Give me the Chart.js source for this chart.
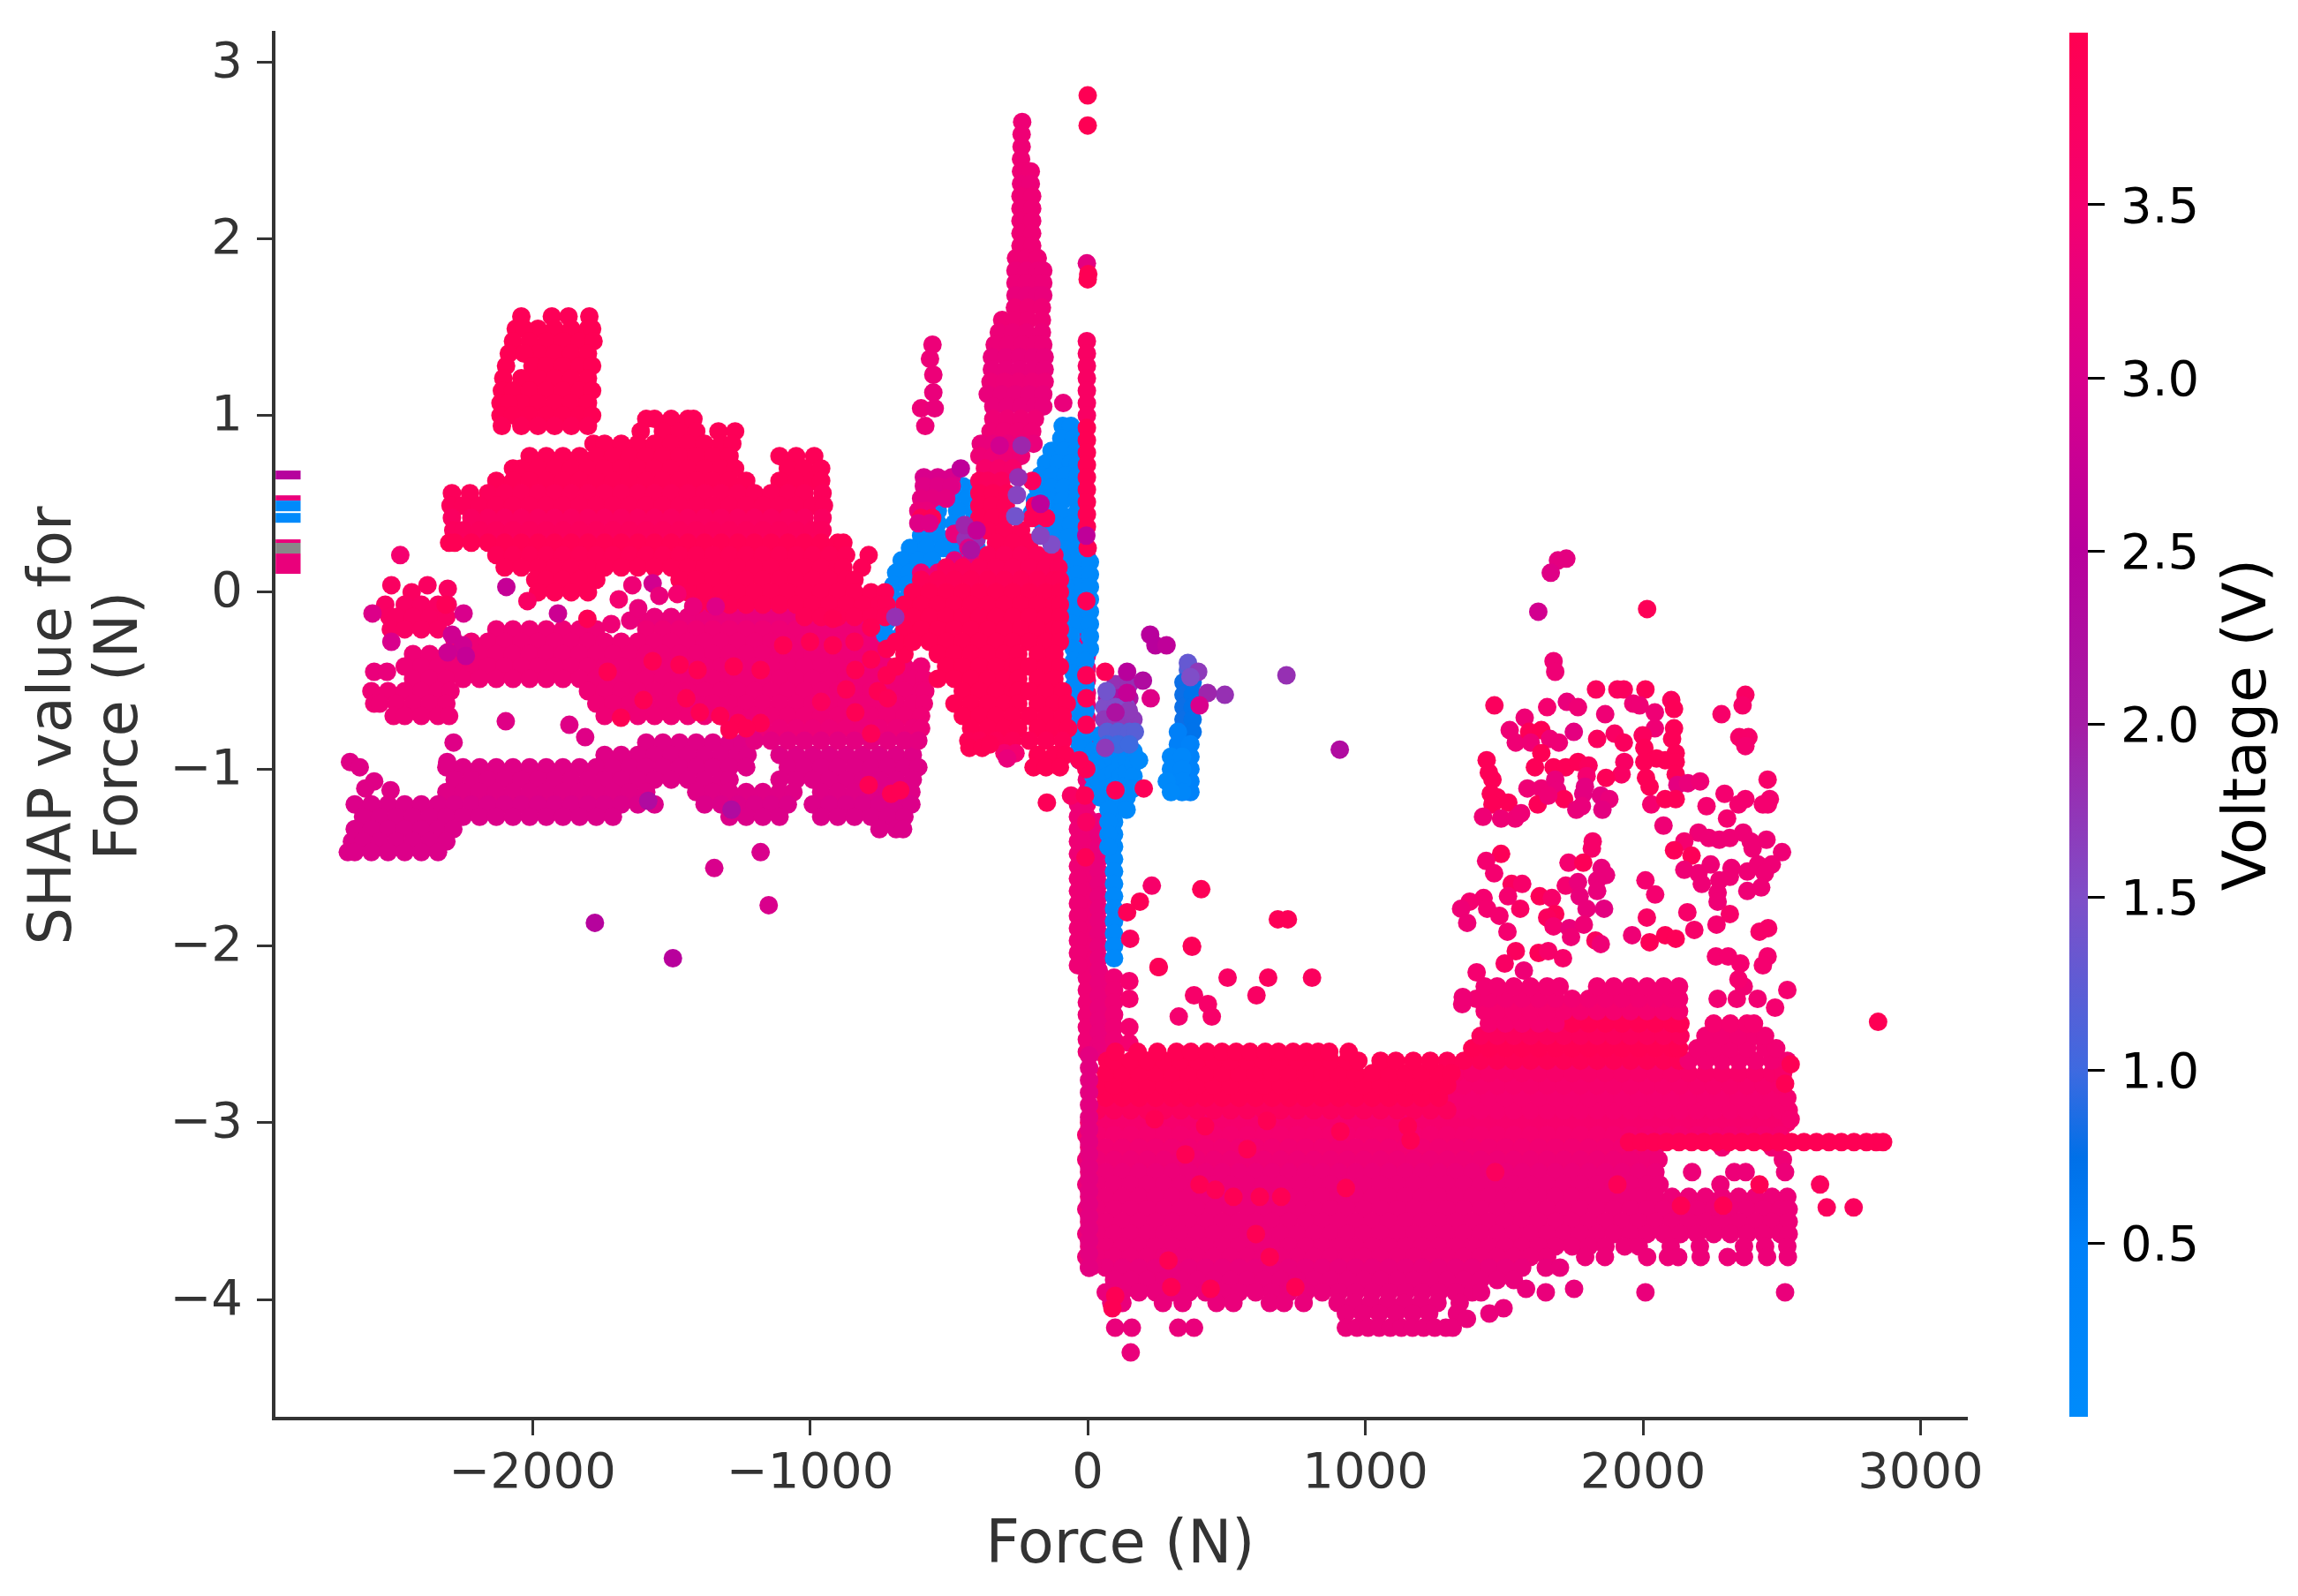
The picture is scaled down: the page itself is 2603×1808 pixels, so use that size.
<!DOCTYPE html>
<html>
<head>
<meta charset="utf-8">
<title>SHAP dependence plot</title>
<script src="https://cdn.jsdelivr.net/npm/chart.js@4"></script>
<style>
  html, body { margin: 0; padding: 0; background: #fff; }
  #main { position: absolute; left: 0; top: 0; }
  #bar { position: absolute; left: 2300px; top: 0; }
</style>
</head>
<body>
<canvas id="main" width="2603" height="1808"></canvas>
<canvas id="bar" width="303" height="1808"></canvas>
<script>
// tick labels
const xTicks = [-2000, -1000, 0, 1000, 2000, 3000];
const yTicks = [-4, -3, -2, -1, 0, 1, 2, 3];
const barTicks = [0.5, 1, 1.5, 2, 2.5, 3, 3.5];

// rows: [shap, voltage, force, force, ...]
const band3Rows = [
  [-0.85,3.1,-2284,-1590,-1530,-1470,-1410,-1350,-1290,-1245],
  [-0.92,3.1,-1740,-1680,-1620,-1560,-1500,-1440,-1380,-1320,-1260,-1225,-1110,-1050,-990,-930,-870,-810,-750,-690,-630],
  [-0.99,3.1,-2310,-2250,-2190,-2130,-2070,-2010,-1950,-1890,-1830,-1770,-1710,-1650,-1590,-1530,-1470,-1410,-1350,-1290,-1230,-1080,-1020,-960,-900,-840,-780,-720,-660,-610],
  [-1.06,3.1,-2280,-2220,-2160,-2100,-2040,-1980,-1920,-1860,-1800,-1740,-1680,-1620,-1560,-1500,-1440,-1380,-1320,-1290,-1110,-1050,-990,-930,-870,-810,-750,-690,-630],
  [-1.13,3.1,-2310,-2250,-2190,-2130,-2070,-2010,-1950,-1890,-1830,-1770,-1710,-1650,-1590,-1410,-1350,-1290,-1230,-1170,-1110,-1060,-960,-900,-840,-780,-720,-660,-635],
  [-1.20,3.05,-2640,-2580,-2520,-2460,-2400,-2340,-2280,-2220,-2160,-2100,-2040,-1980,-1920,-1860,-1800,-1740,-1680,-1620,-1560,-1380,-1320,-1260,-1200,-1140,-1080,-990,-930,-870,-810,-750,-690,-635],
  [-1.27,3.05,-2610,-2550,-2490,-2430,-2370,-2310,-2250,-2190,-2130,-2070,-2010,-1950,-1890,-1830,-1770,-1710,-1290,-1230,-1170,-1110,-960,-900,-840,-780,-720,-660],
  [-1.34,3.05,-2640,-2580,-2520,-2460,-2400,-2340,-2285,-750,-690,-665],
  [-1.41,3.05,-2650,-2610,-2550,-2490,-2430,-2370,-2310],
  [-1.47,3.05,-2665,-2640,-2580,-2520,-2460,-2400,-2340]
];

const band2Rows = [
  [-0.14,3.3,-1620,-1560,-1500,-1440,-1380,-1320,-1260,-1200,-1140,-1080,-1020,-960,-900,-840,-780],
  [-0.21,3.4,-2130,-2070,-2010,-1950,-1890,-1830,-1770,-1590,-1530,-1470,-1410,-1350,-1290,-1230,-1170,-1110,-1050,-990,-930,-870,-810,-750],
  [-0.28,3.4,-2280,-2220,-2160,-2100,-2040,-1980,-1920,-1860,-1800,-1740,-1680,-1620,-1560,-1500,-1440,-1380,-1320,-1260,-1200,-1140,-1080,-1020,-960,-900,-840,-780],
  [-0.35,3.4,-2430,-2370,-2310,-2250,-2190,-2130,-2070,-2010,-1950,-1890,-1830,-1770,-1710,-1650,-1590,-1530,-1470,-1410,-1350,-1290,-1230,-1170,-1110,-1050,-990,-930,-870,-810,-750],
  [-0.42,3.4,-2460,-2400,-2340,-2280,-2220,-2160,-2100,-2040,-1980,-1920,-1860,-1800,-1740,-1680,-1620,-1560,-1500,-1440,-1380,-1320,-1260,-1200,-1140,-1080,-1020,-960,-900,-840,-780,-720,-660,-600],
  [-0.45,3.3,-2570,-2524],
  [-0.49,3.4,-2430,-2370,-2310,-2250,-2190,-2130,-2070,-2010,-1950,-1890,-1830,-1770,-1710,-1650,-1590,-1530,-1470,-1410,-1350,-1290,-1230,-1170,-1110,-1050,-990,-930,-870,-810,-750,-690,-630,-590],
  [-0.56,3.4,-2580,-2520,-2460,-2400,-2340,-2295,-1800,-1740,-1680,-1620,-1560,-1500,-1440,-1380,-1320,-1260,-1200,-1140,-1080,-1020,-960,-900,-840,-780,-720,-660,-600,-585],
  [-0.63,3.4,-2570,-2550,-2490,-2430,-2370,-2310,-1770,-1710,-1650,-1590,-1530,-1470,-1410,-1350,-1290,-1230,-1170,-1110,-1050,-990,-930,-870,-810,-750,-690,-630,-590],
  [-0.70,3.4,-2500,-2460,-2400,-2340,-2300,-1740,-1680,-1620,-1560,-1500,-1440,-1380,-1320,-1260,-1200,-1140,-1080,-1020,-960,-900,-840,-780,-720,-660,-600],
  [-0.77,3.35,-1290,-1230,-1170,-1110,-1050,-990,-930,-870,-810,-750,-690,-630,-600],
  [-0.84,3.2,-1200,-1140,-1080,-1020,-960,-900,-840,-780,-720,-660,-610]
];

const bluePatchRows = [
  [0.60,0.1,-450,-400],[0.53,0.1,-490,-430,-380],[0.46,0.1,-540,-470,-410],[0.39,0.1,-600,-540,-480,-420],
  [0.32,0.1,-600,-540,-480],[0.25,0.1,-640,-580,-520,-460,-400],[0.18,0.1,-670,-610,-560],[0.11,0.1,-690,-640],
  [0.04,0.1,-700,-650],[-0.03,0.1,-705,-650],[-0.10,0.1,-720,-660],[-0.17,0.1,-725,-660],[-0.24,0.1,-730,-670],
  [0.94,0.1,-90,-60],[0.87,0.1,-95,-50],[0.80,0.1,-130,-85,-40],[0.73,0.1,-150,-105,-60,-35],[0.66,0.1,-170,-125,-80,-35],
  [0.59,0.1,-180,-130,-85,-35],[0.52,0.1,-190,-140,-90,-40],[0.45,0.1,-200,-150,-100,-40],[0.38,0.1,-160,-110,-60,-30],
  [0.31,0.1,-120,-70,-30],[0.24,0.1,-80,-40,-5]
];

const redMassRows = [
  [0.98,3.9,-1590,-1560,-1500,-1440,-1420],
  [0.91,3.9,-1610,-1530,-1470,-1410,-1330,-1270],
  [0.84,3.9,-1780,-1740,-1680,-1620,-1560,-1500,-1440,-1380,-1320,-1280],
  [0.77,3.9,-2010,-1950,-1890,-1830,-1770,-1710,-1650,-1590,-1530,-1470,-1410,-1350,-1290,-1110,-1050,-985],
  [0.70,3.9,-2070,-2040,-1980,-1920,-1860,-1800,-1740,-1680,-1620,-1560,-1500,-1440,-1380,-1320,-1270,-1080,-1020,-960],
  [0.63,3.9,-2130,-2070,-2010,-1950,-1890,-1830,-1770,-1710,-1650,-1590,-1530,-1470,-1410,-1350,-1290,-1230,-1110,-1050,-990,-960],
  [0.56,3.85,-2290,-2225,-2160,-2100,-2040,-1980,-1920,-1860,-1800,-1740,-1680,-1620,-1560,-1500,-1440,-1380,-1320,-1260,-1200,-1140,-1080,-1020,-955],
  [0.49,3.85,-2295,-2250,-2190,-2130,-2070,-2010,-1950,-1890,-1830,-1770,-1710,-1650,-1590,-1530,-1470,-1410,-1350,-1290,-1230,-1170,-1110,-1050,-990,-950],
  [0.42,3.75,-2290,-2220,-2160,-2100,-2040,-1980,-1920,-1860,-1800,-1740,-1680,-1620,-1560,-1500,-1440,-1380,-1320,-1260,-1200,-1140,-1080,-1020,-955],
  [0.35,3.8,-2285,-2250,-2190,-2130,-2070,-2010,-1950,-1890,-1830,-1770,-1710,-1650,-1590,-1530,-1470,-1410,-1350,-1290,-1230,-1170,-1110,-1050,-990,-955],
  [0.28,3.95,-2300,-2280,-2220,-2160,-2100,-2040,-1980,-1920,-1860,-1800,-1740,-1680,-1620,-1560,-1500,-1440,-1380,-1320,-1260,-1200,-1140,-1080,-1020,-960,-900,-880],
  [0.21,3.9,-2130,-2070,-2010,-1950,-1890,-1830,-1770,-1710,-1650,-1590,-1530,-1470,-1410,-1350,-1290,-1230,-1170,-1110,-1050,-990,-930,-870,-789],
  [0.14,3.9,-2100,-2040,-1980,-1920,-1860,-1800,-1740,-1680,-1620,-1560,-1500,-1440,-1380,-1320,-1260,-1200,-1140,-1080,-1020,-960,-900,-880,-813],
  [0.07,3.9,-1990,-1950,-1890,-1830,-1770,-1470,-1410,-1350,-1290,-1230,-1170,-1110,-1050,-990,-930,-870,-840],
  [0,3.9,-1980,-1920,-1860,-1800,-1440,-1380,-1320,-1260,-1200,-1140,-1080,-1020,-960,-900,-840,-780,-730],
  [-0.07,3.9,-1410,-1350,-1290,-1230,-1170,-1110,-1050,-990,-930,-870,-810,-750,-725],
  [-0.14,3.9,-1020,-960,-900,-840,-780,-730]
];

const upperBlockRows = [
  [1.56,3.9,-2040,-1930,-1870,-1795],
  [1.49,3.95,-2060,-1980,-1920,-1860,-1800,-1785,-2030],
  [1.42,3.95,-2070,-2010,-1950,-1890,-1830,-1780],
  [1.35,3.95,-2085,-1980,-1920,-1860,-1800,-2030],
  [1.28,3.95,-2095,-2000,-1950,-1890,-1830,-1785],
  [1.21,3.95,-2105,-2040,-1980,-1920,-1860,-1800],
  [1.14,3.95,-2110,-2070,-2010,-1950,-1890,-1830,-1785],
  [1.07,3.95,-2115,-2040,-1980,-1920,-1860,-1800,-2085],
  [1.00,3.95,-2115,-2070,-2010,-1950,-1890,-1830,-1785],
  [0.94,3.9,-2110,-2040,-1980,-1920,-1860,-1800]
];

const leftGroupRows = [
  [0.04,3.75,-2508,-2378],[0.02,3.75,-2305],[0,3.75,-2435],
  [-0.07,3.7,-2530,-2460,-2400,-2340,-2305],
  [-0.14,3.7,-2515,-2490,-2430,-2370,-2310],
  [-0.21,3.7,-2510,-2460,-2400,-2340]
];

const peakRows = [
  [2.66,3.4,-236],[2.59,3.4,-238],[2.52,3.4,-238],[2.45,3.4,-240],[2.38,3.4,-240,-205],[2.31,3.35,-240,-205],
  [2.24,3.4,-242,-200],[2.17,3.4,-242,-200],[2.10,3.4,-242,-200],[2.03,3.4,-242,-200],[1.96,3.4,-242,-200],
  [1.89,3.4,-258,-220,-180],[1.82,3.35,-260,-220,-180,-160],[1.75,3.35,-260,-220,-180,-160],[1.68,3.3,-260,-220,-180,-160],
  [1.61,3.4,-262,-215,-165],[1.54,3.4,-308,-262,-215,-165],[1.47,3.35,-320,-270,-220,-165],[1.40,3.35,-335,-285,-235,-190,-160],
  [1.33,3.3,-345,-295,-245,-195,-155],[1.26,3.3,-345,-295,-245,-195,-155],[1.19,3.35,-350,-300,-250,-200,-155],
  [1.12,3.3,-360,-310,-260,-210,-160],[1.05,3.3,-340,-290,-240,-190,-160],[0.98,3.4,-340,-290,-240,-190],
  [0.91,3.4,-350,-300,-250,-200],[0.84,3.3,-385,-340,-290,-240,-195],[0.77,3.4,-390,-340,-290,-240],
  [0.70,3.6,-370,-320,-270],[0.63,3.8,-390,-360,-310,-200],[0.56,3.9,-390,-340,-290],[0.49,3.9,-390,-345,-295,-190],[0.42,3.9,-390,-340,-290,-200,-150]
];

const pinkOverBlueRows = [
  [0.65,3.0,-590,-540,-490],[0.60,3.1,-590,-540,-490],[0.53,3.2,-600,-560,-510],[0.46,3.3,-610,-580],[0.42,3.9,-600,-560],[0.39,3.1,-610,-570],
  [0.33,3.3,-480,-430],[0.30,1.8,-440,-400],[0.18,3.2,-480,-420,-360],[0.11,3.4,-600,-540,-480,-420,-360],[0.25,3.1,-430]
];

const centerRedRows = [
  [0.35,3.9,-360,-300,-240],
  [0.28,3.9,-330,-270,-210],
  [0.21,3.85,-360,-300,-240,-180,-120],
  [0.14,3.85,-510,-450,-390,-330,-270,-210,-150,-105],
  [0.07,3.9,-600,-540,-480,-420,-360,-300,-240,-180,-120,-100],
  [0,3.95,-630,-570,-510,-450,-390,-330,-270,-210,-150,-100],
  [-0.07,3.95,-660,-600,-540,-480,-420,-360,-300,-240,-180,-120,-100],
  [-0.14,3.95,-630,-570,-510,-450,-390,-330,-270,-210,-150,-100],
  [-0.21,3.95,-660,-600,-540,-480,-420,-360,-300,-240,-180,-120,-100],
  [-0.28,3.95,-690,-630,-570,-510,-450,-390,-330,-270,-210,-150,-100],
  [-0.35,3.95,-540,-480,-420,-360,-300,-250,-180,-120],
  [-0.42,3.95,-510,-450,-390,-330,-270,-250,-210,-150,-100],
  [-0.49,3.95,-540,-480,-420,-360,-300,-250,-180,-120],
  [-0.56,3.95,-450,-390,-330,-270,-250,-210,-150,-90],
  [-0.63,3.95,-480,-420,-360,-300,-250,-180,-120,-75],
  [-0.70,3.95,-450,-390,-330,-270,-210,-150,-90],
  [-0.77,3.95,-420,-360,-300,-250,-180,-120,-70],
  [-0.84,3.9,-430,-390,-330,-270,-210,-150,-90],
  [-0.91,3.5,-300,-260],
  [-0.92,3.95,-180,-120,-80],
  [-0.99,3.95,-195,-150,-100]
];

// purple mix just right of zero, sits over the blue
const purpleMixRows = [
  [-0.52,1.8,100,150],[-0.6,2.2,70,110,150],[-0.65,1.5,60,100,140],[-0.72,1.7,60,100,140,165],[-0.79,1.2,70,110,150,170],[-0.86,1.0,70,110,150]
];

// red marks scattered over the magenta bands: [force, shap, voltage]
const redPatches = [
  [-1729,-0.45,3.95],[-1567,-0.39,3.95],[-1470,-0.41,3.95],[-1405,-0.44,3.95],[-1275,-0.42,3.95],[-1178,-0.44,3.95],
  [-1600,-0.61,3.95],[-1681,-0.71,3.95],[-1446,-0.60,3.95],[-1397,-0.68,3.95],[-1324,-0.70,3.95],[-1259,-0.74,3.95],
  [-1178,-0.74,3.95],[-1230,-0.77,3.95],[-1290,-0.78,3.95],[-1097,-0.30,3.95],[-1000,-0.28,3.95],[-918,-0.30,3.95],[-918,-0.15,3.95],[-837,-0.44,3.95],
  [-724,-0.32,3.95],[-724,-0.47,3.95],[-756,-0.56,3.95],[-837,-0.68,3.95],[-708,-1.14,3.95],[-789,-1.09,3.95],[-675,-1.12,3.95],
  [-780,-0.38,3.95],[-690,-0.42,3.95],[-660,-0.35,3.95],[-720,-0.6,3.9],[-870,-0.55,3.9],[-780,-0.8,3.9],[-960,-0.62,3.8],[-840,-0.28,3.9],[-780,-0.2,3.95]
];

// vertical runs: [force, voltage, shap, shap, ...]
const stemUnderColumns = [
  [-3,3.4,0.2,0.13,0.06,-0.01,-0.08,-0.15,-0.22,-0.29,-0.36,-0.43,-0.5,-0.57,-0.64,-0.71,-0.78,-0.85,-0.92,-0.99,-1.06,-1.13,-1.2,-1.27,-1.34,-1.41,-1.48,-1.55,-1.62,-1.69,-1.76,-1.83,-1.9,-1.97,-2.04,-2.11,-2.18,-2.25,-2.32,-2.39,-2.46,-2.53,-2.6],
  [-35,3.4,-1.2,-1.27,-1.34,-1.41,-1.48,-1.55,-1.62,-1.69,-1.76,-1.83,-1.9,-1.97,-2.04,-2.11],
  [40,3.3,-1.3,-1.37,-1.44,-1.51,-1.58,-1.65,-1.72,-1.79,-1.86,-1.93,-2.0,-2.07,-2.14,-2.21,-2.28,-2.35,-2.42,-2.49,-2.56,-2.6],
  [95,3.4,-2.18,-2.25,-2.32,-2.39,-2.46,-2.53,-2.6],
  [150,3.5,-2.2,-2.3,-2.46,-2.55]
];

const stemBlueColumns = [
  [-85,0.1,0.17,0.10],[-40,0.1,0.17,0.10,0.03],[-80,0.1,0.03],[-70,0.1,-0.04],[-25,0.1,-0.04,-0.11,-0.18],[-60,0.1,-0.11,-0.18,-0.25],
  [8,0.1,0.17,0.10,0.03,-0.04,-0.11,-0.18,-0.25,-0.32],
  [-50,0.1,-0.32,-0.39,-0.46,-0.53,-0.60,-0.67,-0.74,-0.81],
  [-8,0.1,-0.39,-0.46,-0.53,-0.60,-0.67,-0.74,-0.81,-0.88,-0.95],
  [-30,0.1,-0.88,-0.95],
  [20,0.1,-0.9,-0.97,-1.04,-1.11],
  [45,0.1,-0.81,-0.88,-0.95,-1.02,-1.09,-1.16],
  [70,0.1,-0.9,-0.97,-1.04,-1.11],
  [95,0.1,-0.81,-0.88,-0.95,-1.02,-1.09,-1.16,-1.23,-1.30,-1.37,-1.44,-1.51,-1.58,-1.65,-1.72,-1.79,-1.86,-1.93,-2.0,-2.07],
  [120,0.1,-0.9,-0.97,-1.04,-1.11,-1.18],
  [140,0.1,-0.88,-0.95,-1.02,-1.09,-1.16,-1.23],
  [165,0.1,-0.9,-0.97,-1.04,-1.11],
  [185,0.1,-0.95],
  [75,0.1,-1.23,-1.30,-1.37,-1.44],
  [361,1.1,-0.44],[345,0.8,-0.51,-0.58,-0.65,-0.72],[378,0.7,-0.51,-0.58,-0.65,-0.72,-0.79],
  [325,0.5,-0.79,-0.86],[370,0.4,-0.86,-0.93,-1.00,-1.07,-1.13],[300,0.2,-0.93,-1.00],[340,0.2,-0.93,-1.00,-1.07,-1.13],[285,0.1,-1.07],[300,0.1,-1.13]
];

const spikeColumns = [
  [-3,3.7,1.42,1.35,1.28,1.21,1.14,1.07,1.0],
  [-3,3.95,0.93,0.86,0.79,0.72,0.65,0.58,0.51,0.44,0.37],
  [-3,3.2,1.86],
  [0,3.95,2.81,2.64,1.77,0.25],
  [2,3.95,1.8]
];

// lower cloud rows
const lowerBaseRows = [
  [-3.00,3.55,5,65,125,185,245,305,365,425,485,545,605,665,725,785,845,905,965,1025,1085,1145,1205,1265,1325,1385,1445,1505,1565,1625,1685,1745,1805,1865,1925,1985,2045,2105,2165,2225,2285,2345,2405,2465,2520],
  [-3.07,3.5,-5,35,95,155,215,275,335,395,455,515,575,635,695,755,815,875,935,995,1055,1115,1175,1235,1295,1355,1415,1475,1535,1595,1655,1715,1775,1835,1895,1955,2015,2075,2135,2195,2255,2315,2375,2435,2495],
  [-3.14,3.45,5,65,125,185,245,305,365,425,485,545,605,665,725,785,845,905,965,1025,1085,1145,1205,1265,1325,1385,1445,1505,1565,1625,1685,1745,1805,1865,1925,1985,2045,2285,2465],
  [-3.21,3.4,-5,35,95,155,215,275,335,395,455,515,575,635,695,755,815,875,935,995,1055,1115,1175,1235,1295,1355,1415,1475,1535,1595,1655,1715,1775,1835,1895,1955,2015,2056,2504],
  [-3.28,3.35,5,65,125,185,245,305,365,425,485,545,605,665,725,785,845,905,965,1025,1085,1145,1205,1265,1325,1385,1445,1505,1565,1625,1685,1745,1805,1865,1925,1985,2045,2177,2329,2370,2512],
  [-3.35,3.35,-5,35,95,155,215,275,335,395,455,515,575,635,695,755,815,875,935,995,1055,1115,1175,1235,1295,1355,1415,1475,1535,1595,1655,1715,1775,1835,1895,1955,2015,2060,2279],
  [-3.42,3.35,5,65,125,185,245,305,365,425,485,545,605,665,725,785,845,905,965,1025,1085,1145,1205,1265,1325,1385,1445,1505,1565,1625,1685,1745,1805,1865,1925,1985,2045,2105,2165,2225,2285,2345,2405,2465,2520],
  [-3.49,3.35,-5,35,95,155,215,275,335,395,455,515,575,635,695,755,815,875,935,995,1055,1115,1175,1235,1295,1355,1415,1475,1535,1595,1655,1715,1775,1835,1895,1955,2015,2075,2135,2195,2255,2315,2375,2435,2495,2525],
  [-3.56,3.35,5,65,125,185,245,305,365,425,485,545,605,665,725,785,845,905,965,1025,1085,1145,1205,1265,1325,1385,1445,1505,1565,1625,1685,1745,1805,1865,1925,1985,2045,2105,2165,2225,2285,2345,2405,2465,2525],
  [-3.63,3.35,-5,35,95,155,215,275,335,395,455,515,575,635,695,755,815,875,935,995,1055,1115,1175,1235,1295,1355,1415,1475,1535,1595,1655,1715,1775,1835,1895,1955,2015,2075,2135,2195,2255,2315,2375,2435,2495,2525],
  [-3.70,3.35,5,65,125,185,245,305,365,425,485,545,605,665,725,785,845,905,965,1025,1085,1145,1205,1265,1325,1385,1445,1505,1565,1625,1685,1745,1805,1865,1934,1985,2100,2205,2364,2440,2520],
  [-3.76,3.35,-5,35,95,155,215,275,335,395,455,515,575,635,695,755,815,875,935,995,1055,1115,1175,1235,1295,1355,1415,1475,1535,1595,1655,1792,1863,2015,2090,2127,2208,2305,2364,2447,2522],
  [-3.82,3.3,5,65,125,185,245,305,365,425,485,545,605,665,725,785,845,905,965,1025,1085,1145,1205,1265,1325,1385,1445,1505,1565,1650,1701],
  [-3.89,3.3,95,155,215,275,335,395,455,515,575,635,695,755,815,875,935,995,1055,1115,1175,1235,1295,1355,1415,1475,1535],
  [-3.96,3.3,65,125,185,245,305,365,425,485,545,605,665,725,785,845,905,965,1025,1085,1145,1205,1265,1325,1385,1417,1650,2009,2512],
  [-3.94,3.3,1579,1752],
  [-4.02,3.3,85,125,271,342,464,525,656,707,778,900,960,1020,1080,1140,1200,1260,1340],
  [-4.08,3.3,930,990,1050,1110,1170,1230,1330,1447],
  [-4.16,3.3,930,970,1010,1050,1090,1130,1170,1210,1250,1290,1315,99,159,326,383],
  [-3.81,3.3,18],[-4.05,3.3,1498],[-4.11,3.3,1366],[-4.30,3.3,155]
];

const lowerTopRows = [
  [-2.93,3.8,35,95,155,215,275,335,395,455,515,575,635,695,755,815,875,935,995,1055,1115,1175,1235,1295],
  [-2.86,3.95,65,125,185,245,305,365,425,485,545,605,665,725,785,845,905,965,1025,1085,1145,1205,1265],
  [-2.79,3.95,40,95,155,215,275,335,395,455,515,575,635,695,755,815,875,935,995,1055,1115,1175,1235,1295],
  [-2.72,3.95,65,125,185,245,305,365,425,485,545,605,665,725,785,845,905,965,1025,1085,1145,1205,1265,1310],
  [-2.65,3.95,70,95,155,215,275,335,395,455,515,575,635,695,755,815,875,935,975,1055,1110,1173,1234],
  [-2.60,3.95,100,180,251,320,372,430,484,535,585,640,687,740,788,830,870,940]
];

const humpRows = [
  [-2.93,3.5,1355,1415,1475,1535,1595,1655,1715,1775,1835,1895,1955,2015,2075,2135,2195,2255,2315,2375,2435,2495,2525],
  [-2.86,3.5,1325,1385,1445,1505,1565,1625,1685,1745,1805,1865,1925,1985,2045,2105,2165,2225,2285,2345,2405,2465,2520],
  [-2.79,3.55,1310,1355,1415,1475,1535,1595,1655,1715,1775,1835,1895,1955,2015,2075,2135,2195,2255,2315,2375,2435,2495],
  [-2.72,3.6,1325,1385,1445,1505,1565,1625,1685,1745,1805,1865,1925,1985,2045,2105,2165,2225,2285,2345,2405,2465,2505],
  [-2.65,3.9,1295,1355,1415,1475,1535,1595,1655,1715,1775,1835,1895,1955,2015,2075,2130],
  [-2.65,3.45,2165,2225,2285,2345,2405,2465,2520],
  [-2.58,3.95,1385,1445,1505,1565,1625,1685,1745,1805,1865,1925,1985,2045,2105,2130],
  [-2.58,3.45,2195,2255,2315,2375,2440,2480],
  [-2.51,3.8,1415,1475,1535,1595,1655,1715,1775,1835,1895,1955,2015,2075,2135],
  [-2.51,3.45,2225,2285,2345,2405,2440],
  [-2.44,3.95,1745,1805,1865,1925,1985,2045,2105,2135],
  [-2.44,3.5,1445,1505,1565,1625,1685,2255,2315,2375,2400],
  [-2.37,3.5,1430,1475,1535,1595,1655,1715,1775,1835,1895,1955,2015,2075,2130],
  [-2.30,3.45,1400,1445,1505,1565,1625,1685,1745,1805,1865,1925,1985,2045,2105,2130,2269,2338,2413],
  [-2.23,3.45,1430,1475,1535,1595,1655,1700,1835,1895,1955,2015,2075,2130,2363]
];

const stemTopColumn = [
  [5,3.2,-2.62,-2.69,-2.76,-2.83,-2.9,-2.97,-3.04,-3.11,-3.18,-3.25,-3.32,-3.39,-3.46,-3.53,-3.6,-3.67,-3.74,-3.82]
];

const lineRows = [
  [-3.11,3.95,1950,1995,2040,2085,2130,2175,2220,2265,2310,2355,2400,2445,2490,2535,2580,2625,2670,2715,2760,2805,2840,2865]
];

// single marks: [force, shap, voltage]
const looseMarks = [
  [1724,0.19,3.2],[1694,0.18,3.2],[1668,0.11,3.1],[1623,-0.11,2.9],[2015,-0.095,3.9],[1678,-0.39,3.4],[1684,-0.45,3.4],
  [1831,-0.55,3.8],[1908,-0.55,3.8],[1931,-0.55,3.8],[2009,-0.55,3.9],[1465,-0.64,3.8],[1655,-0.65,3.5],[1726,-0.62,3.3],
  [1766,-0.65,3.4],[1864,-0.69,3.4],[1965,-0.63,3.4],[1988,-0.64,3.4],[2043,-0.68,3.4],[2102,-0.61,3.8],[2112,-0.66,3.9],
  [2283,-0.69,3.6],[2369,-0.58,3.7],[2359,-0.64,3.6],[1574,-0.71,3.4],[1520,-0.78,3.4],[1542,-0.85,3.4],[1590,-0.79,3.9],
  [1634,-0.78,3.95],[1596,-0.85,3.4],[1665,-0.83,3.4],[1697,-0.85,3.4],[1751,-0.79,3.2],[1835,-0.83,3.8],[1898,-0.80,3.7],
  [1931,-0.85,3.8],[2043,-0.77,3.4],[1999,-0.81,3.8],[2112,-0.77,3.9],[2105,-0.83,3.9],[2347,-0.82,3.6],[2380,-0.82,3.6],
  [2369,-0.87,3.5],[1634,-0.91,3.95],[2005,-0.88,3.9],[2049,-0.94,3.9],[2118,-0.91,3.9],[1437,-0.95,3.9],[1445,-1.02,3.9],
  [1458,-1.06,3.9],[1611,-0.99,3.9],[1678,-0.99,3.9],[1722,-0.99,3.9],[1766,-0.96,3.9],[1804,-0.98,3.8],[1797,-1.04,3.5],
  [1933,-0.96,3.7],[1923,-1.03,3.7],[1867,-1.05,3.9],[2005,-0.96,3.9],[2080,-0.95,3.9],[2118,-0.96,3.9],[2011,-1.05,3.9],
  [2024,-1.10,3.9],[2118,-1.03,3.9],[2449,-1.06,3.6],[1584,-1.11,3.4],[1634,-1.11,3.4],[1684,-1.06,3.3],[1691,-1.12,3.3],
  [1791,-1.10,3.2],[1785,-1.14,3.2],[1848,-1.15,3.2],[1879,-1.17,3.3],[2124,-1.09,3.2],[2162,-1.08,3.3],[2206,-1.07,3.4],
  [2294,-1.14,3.5],[2369,-1.17,3.5],[2344,-1.20,3.5],[2457,-1.17,3.5],[2432,-1.20,3.5],[2450,-1.20,3.5],[1452,-1.14,3.9],
  [1475,-1.16,3.9],[1515,-1.19,3.9],[1458,-1.20,3.9],[1716,-1.17,3.9],[1621,-1.20,3.9],[1659,-1.15,3.4],[1760,-1.23,3.3],
  [1780,-1.21,3.3],[1854,-1.23,3.2],[2030,-1.20,3.5],[2080,-1.17,3.9],[2118,-1.17,3.9],[2229,-1.21,3.5],[2303,-1.28,3.5],
  [1424,-1.27,3.4],[1489,-1.28,3.4],[1540,-1.28,3.4],[1561,-1.25,3.4],[2074,-1.32,3.4],
  [2200,-1.36,3.4],[2149,-1.41,3.5],[2237,-1.39,3.4],[2275,-1.40,3.4],[2313,-1.39,3.4],[2361,-1.36,3.4],[2388,-1.41,3.4],
  [2445,-1.40,3.4],[2395,-1.45,3.4],[2501,-1.47,3.4],[2112,-1.46,3.9],[2175,-1.49,3.9],
  [2149,-1.57,3.4],[2200,-1.59,3.4],[2244,-1.54,3.4],[2319,-1.56,3.4],[2376,-1.58,3.4],[2414,-1.54,3.4],[2464,-1.54,3.4],
  [2439,-1.59,3.4],[2212,-1.65,3.4],[2275,-1.63,3.4],[2313,-1.61,3.4],[2376,-1.69,3.4],[2426,-1.67,3.4],[2269,-1.70,3.4],[2269,-1.75,3.4],
  [1819,-1.41,3.6],[1816,-1.45,3.6],[1489,-1.48,3.9],[1435,-1.52,3.5],[1464,-1.59,3.5],[1732,-1.53,3.5],[1785,-1.53,3.9],
  [1851,-1.56,3.3],[1867,-1.60,3.3],[1835,-1.63,3.3],[1835,-1.69,3.3],[2009,-1.63,3.5],[2044,-1.71,3.5],[1527,-1.65,3.8],
  [1565,-1.65,3.6],[1558,-1.79,3.7],[1514,-1.72,3.5],[1722,-1.66,3.5],[1766,-1.64,3.3],[1628,-1.72,3.9],[1672,-1.73,3.6],
  [1772,-1.72,3.3],[1797,-1.79,3.3],[1860,-1.79,3.2],[1426,-1.73,3.5],[1376,-1.75,3.5],[1345,-1.79,3.4],[1367,-1.87,3.4],
  [1439,-1.79,3.5],[1483,-1.83,3.5],[1512,-1.92,3.5],[1684,-1.82,3.9],[1655,-1.84,3.8],[1678,-1.89,3.5],[1735,-1.90,3.3],
  [1787,-1.88,3.4],[1741,-1.95,3.4],[2014,-1.84,3.7],[2160,-1.81,3.6],[2185,-1.91,3.6],[2313,-1.82,3.6],[2265,-1.88,3.5],
  [2420,-1.92,3.6],[2451,-1.90,3.6],[1961,-1.94,3.4],[2024,-1.98,3.9],[2080,-1.94,3.9],[2118,-1.96,3.9],[1829,-1.97,3.8],
  [1848,-1.99,3.4],[2263,-2.06,3.5],[2307,-2.06,3.5],[2351,-2.10,3.5],[2449,-2.06,3.5],[2432,-2.11,3.5],[1624,-2.04,3.9],
  [1659,-2.03,3.6],[1712,-2.07,3.6],[1542,-2.03,3.8],[1502,-2.10,3.7],[1401,-2.15,3.5],[1571,-2.14,3.4],[2520,-2.25,3.5],
  [2476,-2.35,3.5],[2344,-2.19,3.5],[1349,-2.33,3.4],[1351,-2.29,3.4],[2847,-2.43,3.95],
  [376,-2.005,3.7],[255,-2.12,3.9],[504,-2.18,3.7],[650,-2.18,3.8],[808,-2.18,3.8],[383,-2.28,3.6],[433,-2.33,3.6],[608,-2.28,3.7],
  [328,-2.40,3.5],[447,-2.40,3.6],[2638,-3.35,3.8],[2662,-3.48,3.8],[2759,-3.48,3.8],
  [2532,-2.67,3.95],[2512,-2.78,3.95],[2532,-2.98,3.5],
  [-2094,0.03,2.7],[-2018,-0.05,3.7],[-1689,-0.04,3.5],[-1567,0.05,2.9],[-1640,0.04,3.4],[-1543,-0.02,3.3],[-1478,-0.01,3.5],
  [-1716,-0.18,3.4],[-1908,-0.12,2.8],[-1802,-0.15,3.95],[-1648,-0.16,3.3],[-1619,-0.09,3.3],[-1421,-0.08,3.3],[-1340,-0.08,3.1],
  [-2476,0.21,3.5],[-2576,-0.12,3.05],[-2248,-0.12,3.0],[-2313,-0.07,3.9],[-2508,-0.28,3.0],[-2290,-0.24,2.85],[-2250,-0.3,2.85],[-2305,-0.34,2.8],[-2240,-0.36,2.7],
  [-2657,-0.96,3.1],[-2622,-0.99,3.1],[-2570,-1.07,3.1],[-2511,-1.12,3.1],[-2602,-1.11,3.1],[-2096,-0.73,3.1],[-1867,-0.75,3.1],
  [-1810,-0.82,3.1],[-1283,-1.23,2.3],[-1583,-1.18,2.3],[-1178,-1.47,3.0],[-1345,-1.56,3.0],[-1149,-1.77,3.0],[-1775,-1.87,2.45],[-1494,-2.07,2.5],
  [-2307,-0.96,3.1],[-559,1.40,3.35],[-568,1.32,3.35],[-556,1.23,3.35],[-556,1.13,3.3],[-600,1.04,3.35],[-551,1.04,3.3],[-585,0.94,3.35],
  [-88,1.07,3.3],[-457,0.70,2.6],[-317,0.83,2.9],[-238,0.83,1.9],[-250,0.65,1.8],[-255,0.55,1.6],[-261,0.43,1.4],[-130,0.27,1.5],[-170,0.32,1.6],
  [-443,0.38,1.9],[-420,0.24,2.2],[-693,-0.14,1.8],[-5,0.32,2.6],[-170,0.5,2.6],[-400,0.35,2.7],
  [142,-0.45,2.5],[199,-0.50,2.3],[68,-0.56,1.4],[142,-0.57,2.7],[148,-0.67,1.7],[100,-0.68,2.2],[63,-0.88,1.7],[63,-0.45,3.9],[227,-0.60,3.1],
  [225,-0.24,2.5],[244,-0.30,2.5],[284,-0.30,2.6],[716,-0.47,1.8],[494,-0.58,1.8],[432,-0.57,1.9],[361,-0.40,1.3],[398,-0.45,1.7],[370,-0.48,1.5],[403,-0.64,3.0],[908,-0.89,2.3],
  [-147,-1.19,3.9],[-60,-1.15,3.7],[202,-1.11,3.9],[231,-1.66,3.6],[409,-1.68,3.9],[188,-1.75,3.9],[142,-1.81,3.9],[153,-1.96,3.8],[375,-2.0,3.9],[685,-1.85,3.9],[721,-1.85,3.9],[256,-2.12,3.9],
  [-5,-0.6,3.9],[-5,-0.75,3.9],[-5,-1.0,3.9],[-10,-1.15,3.9],[-5,-1.3,3.7],[-30,-0.95,3.9],[-5,-0.05,3.9],[-5,-0.47,3.9],[-8,-1.5,3.9],[100,-1.12,3.9],
  [-426,-0.88,3.95],[-380,-0.88,3.95],[-352,-0.86,3.95],[-290,-0.94,3.3],
  [291,-3.78,3.95],[656,-3.76,3.95],[930,-3.37,3.95],[1468,-3.28,3.8],[1908,-3.35,3.9],[301,-3.93,3.95],[443,-3.94,3.95],[99,-3.98,3.95],[89,-4.05,3.95],
  [748,-3.93,3.95],[525,-3.42,3.95],[697,-3.42,3.95],[403,-3.35,3.95],[352,-3.18,3.95],[575,-3.15,3.95],[1163,-3.10,3.95],[646,-2.99,3.95],[241,-2.98,3.95],
  [423,-3.02,3.95],[910,-3.05,3.95],[1153,-3.02,3.95],[2289,-3.47,3.95],[2137,-3.47,3.95],[606,-3.63,3.95],[2420,-3.35,3.95],[620,-3.42,3.95],[460,-3.38,3.9]
];

// NaN-force markers on the left edge: [shap low, shap high, voltage]
const missingBars = [[0.638,0.688,2.45],[0.518,0.548,3.3],[0.458,0.518,0.05],[0.393,0.448,0.05],[0.279,0.299,3.3],[0.104,0.219,3.3]];
const missingGrey = [0.219,0.279];

// colormap stops
const stopVolts = [0, 0.5, 0.75, 1, 1.5, 2, 2.5, 3, 3.5, 4];
const stopRgb = [[0,139,251],[0,128,248],[0,112,232],[62,106,224],[127,78,200],[165,28,165],[184,0,156],[217,0,140],[245,0,111],[255,0,81]];

const forceMin = -2932, forceMax = 3167, shapMin = -4.674, shapMax = 3.165, voltMax = 3.997;
const FONT = "'DejaVu Sans', sans-serif";

function voltColor(v) {
  const t = Math.min(v, 4);
  let i = 0;
  while (i < stopVolts.length - 2 && t > stopVolts[i + 1]) i++;
  const f = (t - stopVolts[i]) / (stopVolts[i + 1] - stopVolts[i]);
  const c = stopRgb[i].map((a, k) => Math.round(a + (stopRgb[i + 1][k] - a) * f));
  return `rgb(${c[0]},${c[1]},${c[2]})`;
}

const fromRows = rows => rows.flatMap(r => r.slice(2).map(x => ({ x: x, y: r[0], v: r[1] })));
const fromColumns = cols => cols.flatMap(c => c.slice(2).map(y => ({ x: c[0], y: y, v: c[1] })));
const fromMarks = marks => marks.map(m => ({ x: m[0], y: m[1], v: m[2] }));

// drawing order matters, later marks sit on top
const points = [
  ...fromRows(band3Rows),
  ...fromRows(band2Rows),
  ...fromColumns(stemUnderColumns),
  ...fromRows(bluePatchRows),
  ...fromColumns(stemBlueColumns),
  ...fromRows(purpleMixRows),
  ...fromRows(redMassRows),
  ...fromMarks(redPatches),
  ...fromRows(upperBlockRows),
  ...fromRows(leftGroupRows),
  ...fromRows(peakRows),
  ...fromRows(pinkOverBlueRows),
  ...fromRows(centerRedRows),
  ...fromColumns(spikeColumns),
  ...fromRows(lowerBaseRows),
  ...fromRows(humpRows),
  ...fromRows(lowerTopRows),
  ...fromColumns(stemTopColumn),
  ...fromRows(lineRows),
  ...fromMarks(looseMarks)
];

const minusSign = v => String(v).replace('-', '\u2212');

// the short bars on the y axis for samples with no force value
const missingPlugin = {
  id: 'missingBars',
  afterDatasetsDraw(chart) {
    const { ctx, scales: { x, y } } = chart;
    const left = x.getPixelForValue(-2925), right = x.getPixelForValue(-2835);
    const rect = (lo, hi, col) => {
      ctx.fillStyle = col;
      ctx.fillRect(left, y.getPixelForValue(hi), right - left, y.getPixelForValue(lo) - y.getPixelForValue(hi));
    };
    ctx.save();
    missingBars.forEach(b => rect(b[0], b[1], voltColor(b[2])));
    rect(missingGrey[0], missingGrey[1], '#888888');
    ctx.restore();
  }
};

new Chart(document.getElementById('main'), {
  type: 'scatter',
  data: {
    datasets: [{
      data: points,
      pointRadius: 10.5,
      pointBorderWidth: 0,
      pointBackgroundColor: c => voltColor(c.raw.v)
    }]
  },
  options: {
    responsive: false,
    animation: false,
    events: [],
    layout: { padding: { top: 37, right: 375, left: 0, bottom: 0 } },
    plugins: { legend: { display: false }, tooltip: { enabled: false } },
    scales: {
      x: {
        type: 'linear',
        min: forceMin,
        max: forceMax,
        afterFit: s => { s.height = 201; s.paddingLeft = 0; s.paddingRight = 0; },
        afterBuildTicks: s => { s.ticks = xTicks.map(v => ({ value: v })); },
        border: { display: true, color: '#333333', width: 4 },
        grid: { drawOnChartArea: false, drawTicks: true, tickLength: 19, tickColor: '#333333', tickWidth: 3 },
        ticks: { color: '#333333', font: { family: FONT, size: 56 }, padding: 11, maxRotation: 0, autoSkip: false, callback: v => minusSign(v) },
        title: { display: true, text: 'Force (N)', color: '#333333', font: { family: FONT, size: 67 }, padding: { top: 14, bottom: 15 } }
      },
      y: {
        type: 'linear',
        min: shapMin,
        max: shapMax,
        afterFit: s => { s.width = 310; s.paddingTop = 0; s.paddingBottom = 0; },
        afterBuildTicks: s => { s.ticks = yTicks.map(v => ({ value: v })); },
        border: { display: true, color: '#333333', width: 4 },
        grid: { drawOnChartArea: false, drawTicks: true, tickLength: 19, tickColor: '#333333', tickWidth: 3 },
        ticks: { color: '#333333', font: { family: FONT, size: 56 }, padding: 16, labelOffset: 2, autoSkip: false, callback: v => minusSign(v) },
        title: { display: true, text: ['SHAP value for', 'Force (N)'], color: '#333333', font: { family: FONT, size: 67, lineHeight: 1.12 }, padding: { top: 25, bottom: 0 } }
      }
    }
  },
  plugins: [missingPlugin]
});

// colorbar: one floating bar on its own voltage axis
const barLabelPlugin = {
  id: 'barLabel',
  afterDraw(chart) {
    const { ctx, chartArea } = chart;
    ctx.save();
    ctx.translate(248, (chartArea.top + chartArea.bottom) / 2);
    ctx.rotate(-Math.PI / 2);
    ctx.fillStyle = '#000000';
    ctx.font = `68px ${FONT}`;
    ctx.textAlign = 'center';
    ctx.textBaseline = 'middle';
    ctx.fillText('Voltage (V)', 0, 0);
    ctx.restore();
  }
};

new Chart(document.getElementById('bar'), {
  type: 'bar',
  data: {
    labels: ['Voltage (V)'],
    datasets: [{
      data: [[0, voltMax]],
      barPercentage: 1,
      categoryPercentage: 1,
      borderWidth: 0,
      backgroundColor: c => {
        const area = c.chart.chartArea;
        if (!area) return '#ff0051';
        const g = c.chart.ctx.createLinearGradient(0, area.bottom, 0, area.top);
        stopVolts.forEach(v => g.addColorStop(Math.min(v / voltMax, 1), voltColor(v)));
        return g;
      }
    }]
  },
  options: {
    responsive: false,
    animation: false,
    events: [],
    layout: { padding: { top: 37, bottom: 203, left: 44, right: 0 } },
    plugins: { legend: { display: false }, tooltip: { enabled: false } },
    scales: {
      x: { display: false },
      y: {
        position: 'right',
        min: 0,
        max: voltMax,
        afterFit: s => { s.width = 238; s.paddingTop = 0; s.paddingBottom = 0; },
        afterBuildTicks: s => { s.ticks = barTicks.map(v => ({ value: v })); },
        border: { display: false },
        grid: { drawOnChartArea: false, drawTicks: true, tickLength: 19, tickColor: '#000000', tickWidth: 3 },
        ticks: { color: '#000000', font: { family: FONT, size: 56 }, padding: 18, labelOffset: 5, autoSkip: false, callback: v => v.toFixed(1) }
      }
    }
  },
  plugins: [barLabelPlugin]
});
</script>
</body>
</html>
